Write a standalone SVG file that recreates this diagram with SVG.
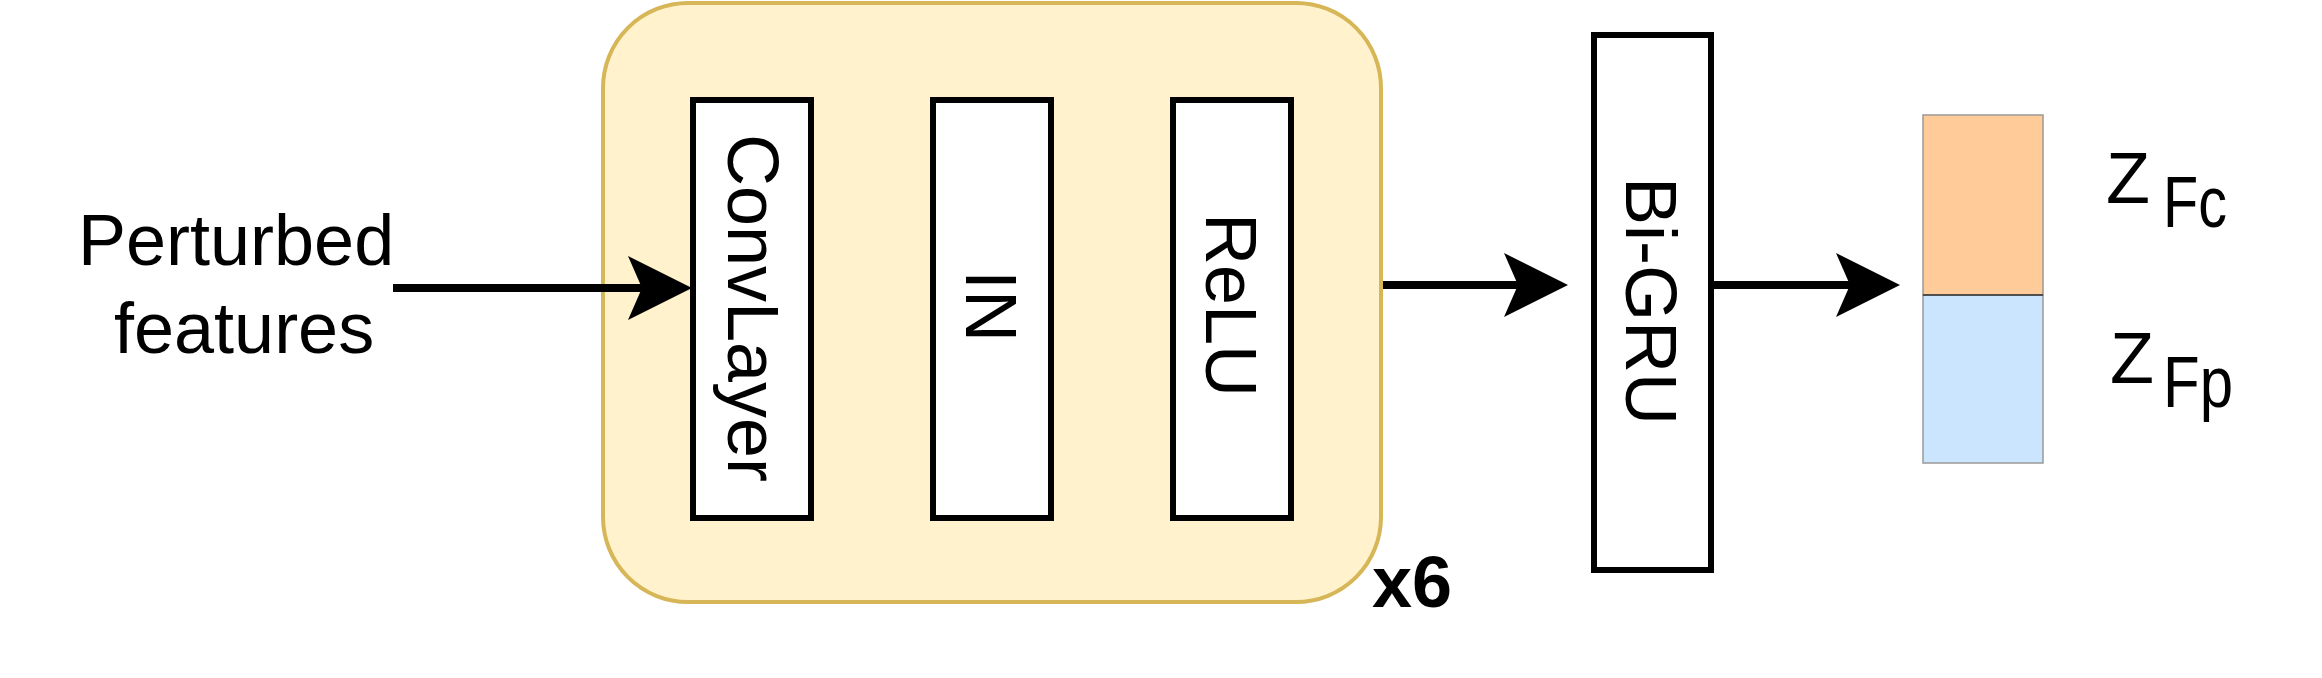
<svg xmlns="http://www.w3.org/2000/svg" width="2322" height="678" viewBox="0 0 2322 678">
<style>
  .t { font-family: "Liberation Sans", Arial, sans-serif; font-size: 72px; fill: #000; }
  .blk { fill: #ffffff; stroke: #000; stroke-width: 6; }
  .conn { stroke: #000; stroke-width: 8; fill: none; marker-end: url(#ah); }
</style>
<defs>
  <marker id="ah" markerUnits="userSpaceOnUse" viewBox="0 0 64 64" markerWidth="64" markerHeight="64" refX="14" refY="32" orient="auto">
    <path d="M0,0 L64,32 L0,64 L14,32 Z" fill="#000"/>
  </marker>
</defs>
<rect width="2322" height="678" fill="#ffffff"/>

<g id="container">
  <rect x="603" y="3" width="778" height="599" rx="85" ry="85" fill="#fff2cc" stroke="#d6b656" stroke-width="4"/>
  <text class="t" x="1372" y="607" font-weight="bold">x6</text>
</g>

<g id="input-label">
  <text class="t" x="78" y="265" font-size="71">Perturbed</text>
  <text class="t" x="114" y="353" font-size="71">features</text>
</g>

<g id="convlayer">
  <rect class="blk" x="693" y="100" width="118" height="418"/>
  <text class="t" text-anchor="middle" transform="translate(728,308) rotate(90)">ConvLayer</text>
</g>
<g id="in">
  <rect class="blk" x="933" y="100" width="118" height="418"/>
  <text class="t" text-anchor="middle" transform="translate(966,306) rotate(90)">IN</text>
</g>
<g id="relu">
  <rect class="blk" x="1173" y="100" width="118" height="418"/>
  <text class="t" text-anchor="middle" transform="translate(1206,305) rotate(90)">ReLU</text>
</g>
<g id="bigru">
  <rect class="blk" x="1594" y="35" width="117" height="535"/>
  <text class="t" text-anchor="middle" transform="translate(1626,301) rotate(90)">Bi-GRU</text>
</g>

<g id="output">
  <rect x="1923" y="115" width="120" height="180" fill="#ffcc99" stroke="#999999" stroke-width="1.5"/>
  <rect x="1923" y="295" width="120" height="168" fill="#cce5ff" stroke="#999999" stroke-width="1.5"/>
  <line x1="1923" y1="295" x2="2043" y2="295" stroke="#333333" stroke-width="1.5"/>
  <text class="t" x="2106" y="203">Z</text>
  <text class="t" x="2163" y="227" font-size="46" textLength="64" lengthAdjust="spacingAndGlyphs">Fc</text>
  <text class="t" x="2110" y="383">Z</text>
  <text class="t" x="2163" y="407" font-size="46" textLength="70" lengthAdjust="spacingAndGlyphs">Fp</text>
</g>

<g id="connectors">
  <line class="conn" x1="393" y1="288" x2="642" y2="288"/>
  <line class="conn" x1="1383" y1="285" x2="1518" y2="285"/>
  <line class="conn" x1="1711" y1="285" x2="1850" y2="285"/>
</g>
</svg>
